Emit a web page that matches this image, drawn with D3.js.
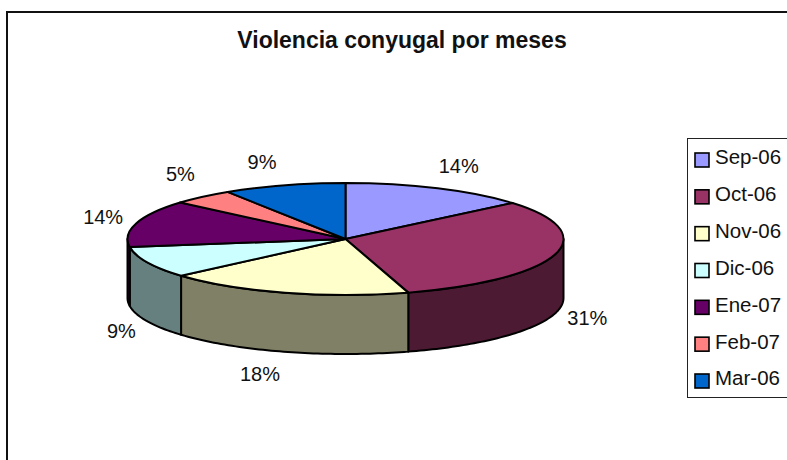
<!DOCTYPE html>
<html>
<head>
<meta charset="utf-8">
<script src="https://cdnjs.cloudflare.com/ajax/libs/d3/7.8.5/d3.min.js"></script>
<style>
    html, body { margin: 0; padding: 0; background: #fff; }
    svg { display: block; }
    text { font-family: "Liberation Sans", Arial, sans-serif; fill: #111; }
</style>
</head>
<body>
<div id="chart"></div>
<script>
var title = 'Violencia conyugal por meses';
var months = ['Sep-06', 'Oct-06', 'Nov-06', 'Dic-06', 'Ene-07', 'Feb-07', 'Mar-06'];
var percents = [13.9, 31.45, 18.25, 9.1, 13.6, 4.6, 9.1];
var topColors = ['#9999ff', '#993366', '#ffffcc', '#ccffff', '#660066', '#ff8080', '#0066cc'];
var sideColors = ['#4d4d80', '#4d1a33', '#808066', '#668080', '#330033', '#804040', '#003366'];
// how far each label sits from the rim, by hand
var labelNudge = [[21, -22], [33, 63], [-25, 81], [-26, 68], [-33, -7], [-22, -23], [-22, -23]];

var width = 787;
var height = 460;
var cx = 345.5;
var cy = 239;
var rx = 218;
var ry = 56;
var depth = 59;

var svg = d3.select('#chart')
    .append('svg')
    .attr('width', width)
    .attr('height', height);

// outer chart frame, runs off the right and bottom of the picture
svg.append('rect')
    .attr('x', 7)
    .attr('y', 12)
    .attr('width', width + 20)
    .attr('height', height + 20)
    .attr('fill', '#fff')
    .attr('stroke', '#111')
    .attr('stroke-width', 2);

svg.append('text')
    .attr('x', 402)
    .attr('y', 48)
    .attr('text-anchor', 'middle')
    .style('font-size', '23px')
    .style('font-weight', 'bold')
    .text(title);

var slices = d3.pie().sort(null)(percents);

// pie angle -> point on the flattened ellipse
function rimX(a) { return cx + rx * Math.sin(a); }
function rimY(a) { return cy - ry * Math.cos(a); }

function sidePath(d) {
    var from = Math.max(d.startAngle, Math.PI / 2);
    var to = Math.min(d.endAngle, Math.PI * 3 / 2);
    if (to <= from) return null;
    var steps = d3.range(from, to, 0.02).concat([to]);
    var line = d3.line().x(function(a) { return rimX(a); });
    var top = line.y(function(a) { return rimY(a); })(steps);
    var bottom = line.y(function(a) { return rimY(a) + depth; })(steps.slice().reverse());
    return top + 'L' + bottom.slice(1) + 'Z';
}

var pieGroup = svg.append('g');

pieGroup.selectAll('path.side')
    .data(slices)
    .enter()
    .append('path')
    .attr('class', 'side')
    .attr('d', sidePath)
    .attr('fill', function(d, i) { return sideColors[i]; })
    .attr('stroke', '#000')
    .attr('stroke-width', 2)
    .attr('stroke-linejoin', 'round');

// top face: a plain d3 arc squashed into an ellipse
var arc = d3.arc().innerRadius(0).outerRadius(rx);

pieGroup.selectAll('path.top')
    .data(slices)
    .enter()
    .append('path')
    .attr('class', 'top')
    .attr('d', arc)
    .attr('transform', 'translate(' + cx + ',' + cy + ') scale(1,' + (ry / rx) + ')')
    .attr('fill', function(d, i) { return topColors[i]; })
    .attr('stroke', '#000')
    .attr('stroke-width', 2)
    .attr('stroke-linejoin', 'round')
    .attr('vector-effect', 'non-scaling-stroke');

svg.selectAll('text.pct')
    .data(slices)
    .enter()
    .append('text')
    .attr('class', 'pct')
    .attr('x', function(d, i) { return rimX((d.startAngle + d.endAngle) / 2) + labelNudge[i][0]; })
    .attr('y', function(d, i) { return rimY((d.startAngle + d.endAngle) / 2) + labelNudge[i][1]; })
    .attr('dy', '.36em')
    .attr('text-anchor', 'middle')
    .style('font-size', '20px')
    .text(function(d) { return Math.round(d.value) + '%'; });

// Legend
var legendY = d3.scalePoint()
    .domain(months)
    .range([159, 380]);

svg.append('rect')
    .attr('x', 687.5)
    .attr('y', 138.5)
    .attr('width', 110)
    .attr('height', 259)
    .attr('fill', '#fff')
    .attr('stroke', '#222')
    .attr('stroke-width', 1);

var legend = svg.selectAll('g.legend')
    .data(months)
    .enter()
    .append('g')
    .attr('class', 'legend')
    .attr('transform', function(d) { return 'translate(0,' + legendY(d) + ')'; });

legend.append('rect')
    .attr('x', 695)
    .attr('y', -6)
    .attr('width', 14)
    .attr('height', 14)
    .attr('fill', function(d, i) { return topColors[i]; })
    .attr('stroke', '#000')
    .attr('stroke-width', 1.6);

legend.append('text')
    .attr('x', 715)
    .attr('y', -2)
    .attr('dy', '.36em')
    .style('font-size', '20.5px')
    .text(function(d) { return d; });
</script>
</body>
</html>
